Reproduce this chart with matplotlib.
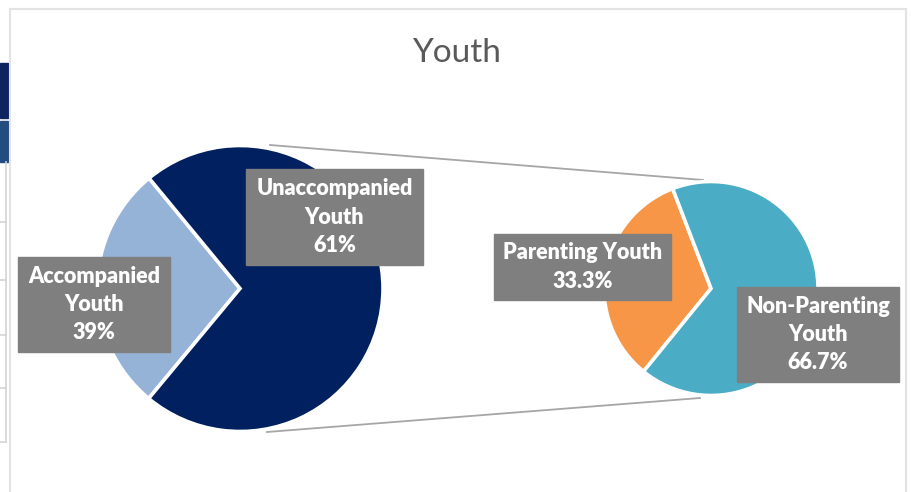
import matplotlib
matplotlib.use("Agg")
import matplotlib.pyplot as plt
from matplotlib.patches import Rectangle

# ---- data ----
title = "Youth"
main_labels = ["Accompanied\nYouth", "Unaccompanied\nYouth"]
main_pct_text = ["39%", "61%"]
main_share = [28.0, 72.0]          # wedge shares as drawn in the picture
main_colors = ["#95B3D7", "#002060"]

sub_labels = ["Parenting Youth", "Non-Parenting\nYouth"]
sub_pct_text = ["33.3%", "66.7%"]
sub_share = [33.3, 66.7]
sub_colors = ["#F79646", "#4BACC6"]

W, H = 911, 492
fig = plt.figure(figsize=(W / 100, H / 100), dpi=100)
ax = fig.add_axes([0, 0, 1, 1])


def Y(y):
    return H - y


# spreadsheet remnants at the far left
ax.add_patch(Rectangle((0, Y(118)), 8, 55, color="#0E2461", zorder=1))
ax.add_patch(Rectangle((0, Y(162)), 8, 41, color="#234C80", zorder=1))
ax.plot([6, 6], [Y(162), Y(442)], color="#D4D4D4", lw=1.2, zorder=1)
for yy in [222, 280, 335, 388, 442]:
    ax.plot([0, 6], [Y(yy), Y(yy)], color="#D4D4D4", lw=1.2, zorder=1)

# chart frame
ax.add_patch(Rectangle((10, Y(500)), 896, 491, facecolor="white",
                       edgecolor="#E3E3E3", lw=1.5, zorder=2))

# title
ax.text(456, Y(53), title, ha="center", va="center", fontsize=24,
        family="Lato", color="#595959", zorder=5)

# connector lines
ax.plot([270, 703], [Y(145), Y(180)], color="#A6A6A6", lw=1.3, zorder=3)
ax.plot([267, 700], [Y(432), Y(398)], color="#A6A6A6", lw=1.3, zorder=3)

# main pie
wedges, _ = ax.pie(main_share, colors=main_colors, startangle=129.5,
                   counterclock=True, center=(240, Y(288.5)), radius=143,
                   wedgeprops=dict(edgecolor="white", linewidth=2.6),
                   frame=True)
for w in wedges:
    w.set_zorder(4)

# secondary pie
wedges2, _ = ax.pie(sub_share, colors=sub_colors, startangle=111,
                    counterclock=True, center=(711, Y(288.5)), radius=107,
                    wedgeprops=dict(edgecolor="white", linewidth=2.6),
                    frame=True)
for w in wedges2:
    w.set_zorder(4)


def label(x0, y0, x1, y1, text):
    ax.add_patch(Rectangle((x0, Y(y1)), x1 - x0, y1 - y0,
                           color="#7F7F7F", zorder=6))
    ax.text((x0 + x1) / 2, Y((y0 + y1) / 2), text, ha="center", va="center",
            fontsize=15.5, family="Lato", fontweight="heavy", color="white",
            linespacing=1.42, zorder=7)


label(18, 257, 170, 352, main_labels[0] + "\n" + main_pct_text[0])
label(246, 169, 423, 265, main_labels[1] + "\n" + main_pct_text[1])
label(494, 234, 671, 300, sub_labels[0] + "\n" + sub_pct_text[0])
label(737, 287, 899, 382, sub_labels[1] + "\n" + sub_pct_text[1])

ax.set_xlim(0, W)
ax.set_ylim(0, H)
ax.set_aspect("auto")
ax.axis("off")

fig.savefig("out.png", dpi=100, facecolor="white")
